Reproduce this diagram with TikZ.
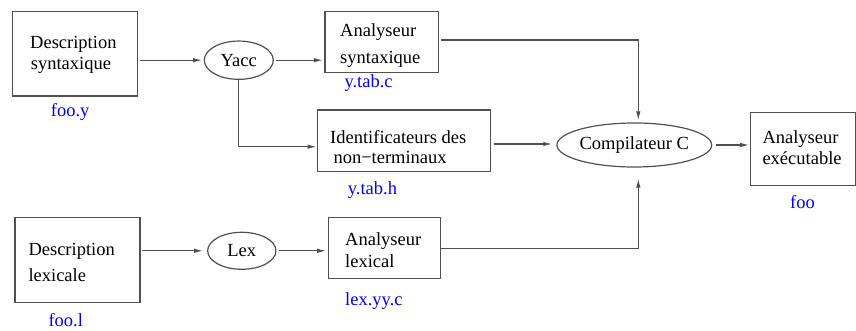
\documentclass[tikz,border=0pt]{standalone}
\usepackage{fontspec}
\setmainfont{Liberation Serif}
\usetikzlibrary{arrows.meta,shapes.geometric}
\definecolor{lgray}{RGB}{80,80,80}
\begin{document}
\begin{tikzpicture}[x=1pt,y=-1pt,
  boxst/.style={draw=lgray,line width=1.3pt,rectangle,inner sep=0pt},
  ellst/.style={draw=lgray,line width=1.2pt,ellipse,inner sep=0pt,font=\fontsize{18.5}{22}\selectfont},
  txt/.style={inner sep=0pt,anchor=base west,font=\fontsize{18.5}{22}\selectfont},
  blue/.style={txt,text={rgb,255:red,0;green,0;blue,255}},
  conn/.style={draw=lgray,line width=1.2pt},
  arr/.style={conn,-{Latex[length=9pt,width=4.5pt]}}]
\useasboundingbox (0,0) rectangle (856,331);
% boxes
\node[boxst,minimum width=125.4pt,minimum height=84.3pt] (dsyn) at (75,53.8) {};
\node[boxst,minimum width=113.3pt,minimum height=60.6pt] (asyn) at (381.7,42) {};
\node[boxst,minimum width=173.4pt,minimum height=61.3pt] (ident) at (404,140.7) {};
\node[boxst,minimum width=104.6pt,minimum height=73pt] (exec) at (803.1,149.2) {};
\node[boxst,minimum width=125pt,minimum height=85pt] (dlex) at (77.5,260.2) {};
\node[boxst,minimum width=112.4pt,minimum height=61pt] (alex) at (384.5,248.2) {};
% ellipses
\node[ellst,minimum width=69pt,minimum height=38.3pt] (yacc) at (238.8,60.2) {Yacc\hspace{6pt}};
\node[ellst,minimum width=68.3pt,minimum height=37pt] (lex) at (241.8,250.8) {Lex};
\node[ellst,minimum width=153.3pt,minimum height=44pt] (comp) at (634.3,145) {Compilateur C\hspace{13pt}};
% texts
\node[txt] (t1a) at (30,48.3) {Description};
\node[txt] (t1b) at (30.7,69.3) {syntaxique};
\node[txt] (t2a) at (340,36.7) {Analyseur};
\node[txt] (t2b) at (340,63.3) {syntaxique};
\node[txt] (t3a) at (330,143.3) {Identificateurs des};
\node[txt] (t3b) at (333.3,163.3) {non−terminaux};
\node[txt] (t4a) at (762.3,143.3) {Analyseur};
\node[txt] (t4b) at (762.3,165) {exécutable};
\node[txt] (t5a) at (28.3,255) {Description};
\node[txt] (t5b) at (28.3,281.7) {lexicale};
\node[txt] (t6a) at (345,245.7) {Analyseur};
\node[txt] (t6b) at (345,267.7) {lexical};
% blue labels
\node[blue] (fooy) at (50.7,116.7) {foo.y};
\node[blue] (ytabc) at (344.3,87.3) {y.tab.c};
\node[blue] (ytabh) at (347.7,195) {y.tab.h};
\node[blue] (foo) at (790,208.3) {foo};
\node[blue] (fool) at (48.3,326.5) {foo.l};
\node[blue] (lexyy) at (345,305) {lex.yy.c};
% connectors
\draw[arr,shorten <=2pt,shorten >=1.5pt] (dsyn.east |- yacc.west) -- (yacc.west);
\draw[arr,shorten <=2.5pt,shorten >=1.5pt] (yacc.east) -- (asyn.west |- yacc.east);
\draw[arr] (yacc.south) |- ([yshift=-6pt]ident.west);
\draw[arr,shorten <=1.5pt,shorten >=2pt] ([yshift=2pt]asyn.east) -| ([xshift=4pt]comp.north);
\draw[arr,shorten <=2.5pt,shorten >=4pt] ([yshift=-3.3pt]ident.east) -- ([yshift=-3.3pt]ident.east -| comp.west);
\draw[arr,shorten <=4pt,shorten >=1pt] (comp.east) -- (exec.west |- comp.east);
\draw[arr,shorten <=1.5pt,shorten >=4pt] (dlex.east |- lex.west) -- (lex.west);
\draw[arr,shorten <=2.5pt,shorten >=1.5pt] (lex.east) -- (alex.west |- lex.east);
\draw[arr,shorten >=11pt] (alex.east) -| ([xshift=4pt]comp.south);
\end{tikzpicture}
\end{document}
